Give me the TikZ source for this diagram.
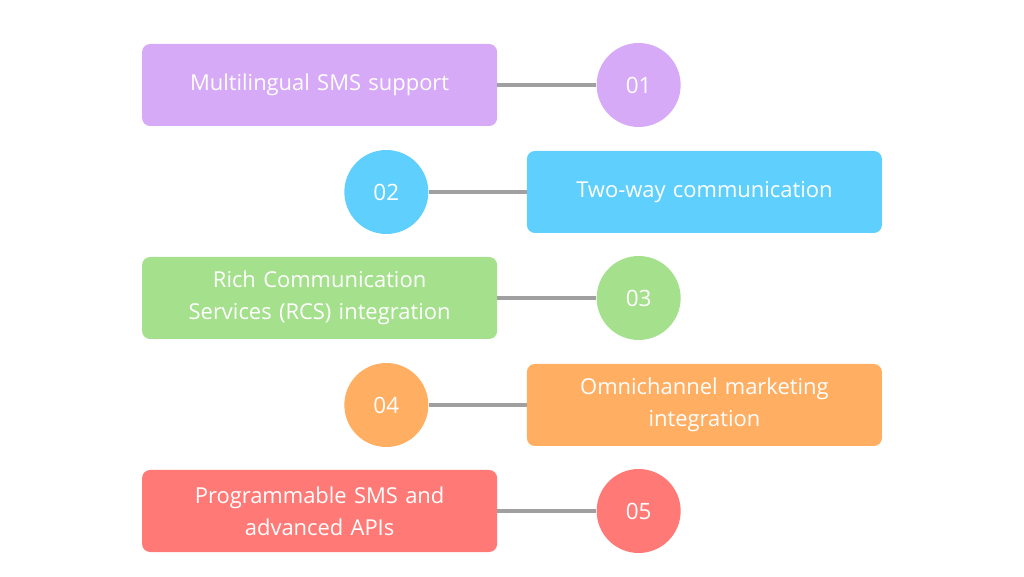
\documentclass[tikz,border=0pt]{standalone}
\usepackage{fontspec}
\setmainfont{Open Sans}
\usetikzlibrary{positioning}
\definecolor{SoftPurple}{RGB}{214,170,247}
\definecolor{SkyBlue}{RGB}{95,208,253}
\definecolor{LeafGreen}{RGB}{165,224,141}
\definecolor{PeachOrange}{RGB}{255,174,98}
\definecolor{CoralRed}{RGB}{255,122,118}
\definecolor{LinkGray}{RGB}{160,160,160}
\tikzset{
  feature/.style={rounded corners=0.2cm,minimum width=8.875cm,
    minimum height=2.05cm,text width=8.4cm,align=center,text=white,
    font=\fontsize{15.6}{22.6}\selectfont},
  badge/.style={circle,minimum size=2.1cm,inner sep=0pt,text=white,
    font=\fontsize{16}{19}\selectfont},
  link/.style={draw=LinkGray,line width=2.2pt}
}

\begin{document}
\begin{tikzpicture}
  \useasboundingbox (0,0) rectangle (25.6,14.4);

  % left column
  \node[feature,fill=SoftPurple] (f1) at (7.99,12.275) {Multilingual SMS support};
  \node[badge,fill=SoftPurple,right=2.475cm of f1] (n1) {01};

  % right column
  \node[feature,fill=SkyBlue] (f2) at (17.61,9.6) {Two-way communication};
  \node[badge,fill=SkyBlue,left=2.45cm of f2] (n2) {02};

  \node[feature,fill=LeafGreen] (f3) at (7.99,6.95)
    {Rich Communication\\Services (RCS) integration};
  \node[badge,fill=LeafGreen,right=2.475cm of f3] (n3) {03};

  \node[feature,fill=PeachOrange] (f4) at (17.61,4.275)
    {Omnichannel marketing\\integration};
  \node[badge,fill=PeachOrange,left=2.45cm of f4] (n4) {04};

  \node[feature,fill=CoralRed] (f5) at (7.99,1.625)
    {Programmable SMS and\\advanced APIs};
  \node[badge,fill=CoralRed,right=2.475cm of f5] (n5) {05};

  % connectors
  \draw[link] (f1) -- (n1);
  \draw[link] (n2) -- (f2);
  \draw[link] (f3) -- (n3);
  \draw[link] (n4) -- (f4);
  \draw[link] (f5) -- (n5);
\end{tikzpicture}
\end{document}
